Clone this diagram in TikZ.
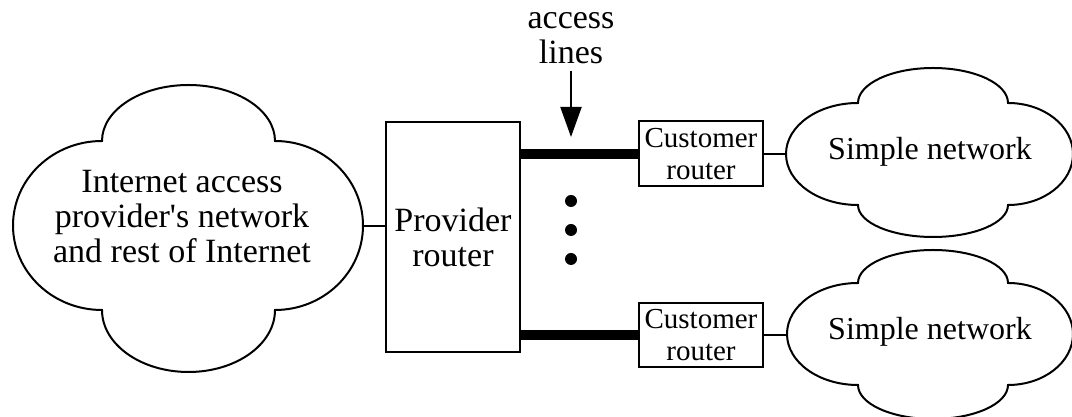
\documentclass[tikz,border=0pt]{standalone}
\usepackage{fontspec}
\setmainfont{Liberation Serif}
\usetikzlibrary{arrows.meta}
\usetikzlibrary{calc}

% outline of a four-lobe cloud round a coordinate
% #1 centre, #2/#3 half width/height between the lobe joints,
% #4 top, #5 left, #6 bottom, #7 right bulge of the lobes
\newcommand{\drawcloud}[7]{%
  \draw[cloudline] ($(#1)+(#2,#3)$)
    arc[start angle=0, end angle=180, x radius=#2, y radius=#4]
    arc[start angle=90, end angle=270, x radius=#5, y radius=#3]
    arc[start angle=180, end angle=360, x radius=#2, y radius=#6]
    arc[start angle=-90, end angle=90, x radius=#7, y radius=#3]
    -- cycle;}

\tikzset{
  bigtext/.style={font=\fontsize{17}{17.5}\selectfont,align=center},
  nettext/.style={font=\fontsize{16}{17.5}\selectfont,align=center},
  smalltext/.style={font=\fontsize{14.5}{16}\selectfont,align=center},
  routerbox/.style={draw,line width=1pt,inner sep=0pt},
  cloudline/.style={line width=1pt},
  thinline/.style={line width=1pt},
  accessline/.style={line width=5pt},
  pointer/.style={line width=1pt,-{Triangle[width=10.5pt,length=15pt]}},
  dotnode/.style={circle,fill,inner sep=0pt,minimum size=6pt}
}

\begin{document}
\begin{tikzpicture}[x=0.5pt,y=0.5pt]
  \useasboundingbox (0,0) rectangle (1072,417);
  % clouds
  \coordinate (inetc) at (188.5,191.5);
  \coordinate (net1c) at (933,263);
  \coordinate (net2c) at (933,83);
  \drawcloud{inetc}{86.5}{84.5}{56}{89}{62}{88}
  \drawcloud{net1c}{75}{51}{35}{72}{32}{65}
  \drawcloud{net2c}{75}{51}{33}{71}{34}{65}
  \node[bigtext](inet) at (182,200) {Internet access\\provider\textquotesingle s network\\and rest of Internet};
  \node[nettext](net1) at (930,265) {Simple network};
  \node[nettext](net2) at (930,85) {Simple network};
  \coordinate (inetE) at (363,190.5);
  \coordinate (net1W) at (786,263);
  \coordinate (net2W) at (787,82);
  % routers
  \node[routerbox,bigtext,minimum width=67pt,minimum height=115pt](provider) at (453,180) {Provider\\router};
  \node[routerbox,smalltext,minimum width=62pt,minimum height=32.5pt](cust1) at (701,263) {Customer\\router};
  \node[routerbox,smalltext,minimum width=62pt,minimum height=32pt](cust2) at (701,82) {Customer\\router};
  % access lines
  \node[bigtext](access) at (571,379) {access\\lines};
  \coordinate (tip) at (571,280);
  \draw[pointer] (access.south) -- (tip);
  \foreach \i/\y in {1/216,2/187,3/158}
    \node[dotnode](dot\i) at (571,\y) {};
  \draw[accessline] (provider.east |- cust1) -- (cust1.west);
  \draw[accessline] (provider.east |- cust2) -- (cust2.west);
  \draw[thinline] (inetE) -- (inetE -| provider.west);
  \draw[thinline] (cust1.east) -- (net1W);
  \draw[thinline] (cust2.east) -- (net2W);
\end{tikzpicture}
\end{document}
